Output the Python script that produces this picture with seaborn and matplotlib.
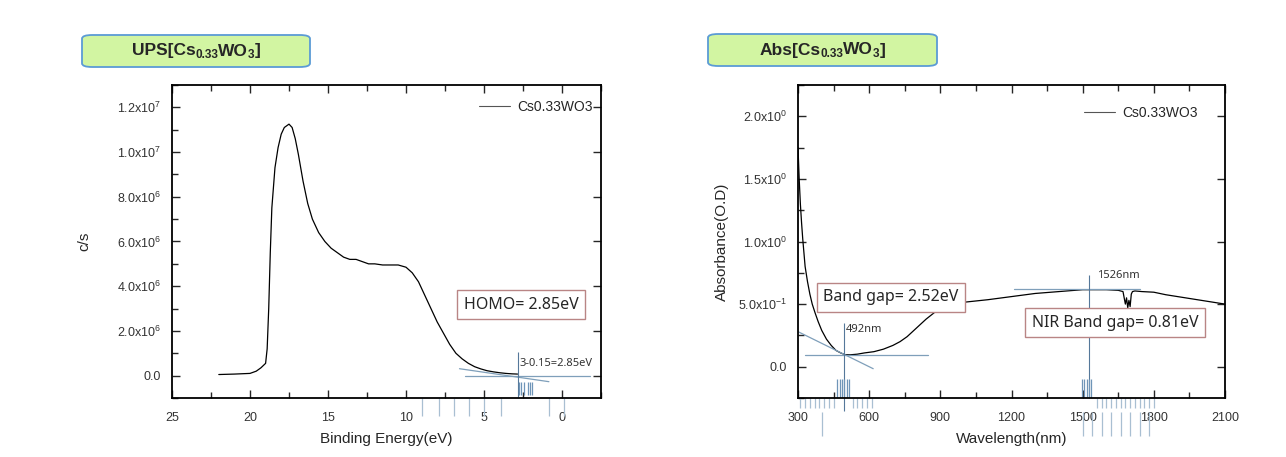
import numpy as np
import pandas as pd
import matplotlib
matplotlib.use("Agg")
import matplotlib.pyplot as plt
import seaborn as sns
from matplotlib.patches import FancyBboxPatch
from matplotlib.ticker import FixedLocator, MultipleLocator

# ---------------- data ----------------
ups_energy = [22.0, 21.0, 20.0, 19.6, 19.3, 19.0, 18.9, 18.8, 18.7, 18.6, 18.4, 18.2, 18.0,
              17.8, 17.5, 17.3, 17.1, 16.9, 16.6, 16.3, 16.0, 15.6, 15.2, 14.8, 14.4, 14.0,
              13.6, 13.2, 12.8, 12.4, 12.0, 11.5, 11.0, 10.5, 10.0, 9.6, 9.2, 8.8, 8.4, 8.0,
              7.6, 7.2, 6.8, 6.4, 6.0, 5.6, 5.2, 4.8, 4.4, 4.0, 3.6, 3.2, 2.85]
ups_counts = [0.05, 0.07, 0.10, 0.20, 0.35, 0.55, 1.2, 3.0, 5.5, 7.5, 9.3, 10.2, 10.8,
              11.1, 11.25, 11.1, 10.6, 9.9, 8.7, 7.7, 7.0, 6.4, 6.0, 5.7, 5.5, 5.3,
              5.2, 5.2, 5.1, 5.0, 5.0, 4.95, 4.95, 4.95, 4.85, 4.6, 4.2, 3.6, 3.0, 2.4,
              1.9, 1.4, 1.0, 0.75, 0.55, 0.4, 0.3, 0.22, 0.17, 0.13, 0.1, 0.08, 0.07]
ups_counts = [v * 1e6 for v in ups_counts]

abs_wavelength = [300, 305, 310, 315, 320, 330, 340, 350, 360, 372, 385, 400, 420, 440, 460,
                  480, 498, 520, 550, 580, 620, 660, 700, 730, 760, 800, 840, 880, 920, 960,
                  1000, 1050, 1100, 1200, 1300, 1400, 1500, 1550, 1600, 1650, 1670, 1680,
                  1685, 1690, 1695, 1700, 1705, 1710, 1720, 1750, 1800, 1850, 1900, 1950,
                  2000, 2050, 2100]
abs_od = [1.75, 1.5, 1.3, 1.15, 1.02, 0.8, 0.68, 0.58, 0.5, 0.43, 0.36, 0.29, 0.22, 0.17, 0.13,
          0.11, 0.096, 0.095, 0.10, 0.11, 0.12, 0.14, 0.17, 0.2, 0.24, 0.31, 0.38, 0.44, 0.48,
          0.505, 0.515, 0.525, 0.535, 0.56, 0.585, 0.60, 0.615, 0.615, 0.615, 0.61, 0.6, 0.5,
          0.55, 0.47, 0.53, 0.48, 0.58, 0.6, 0.605, 0.6, 0.595, 0.575, 0.56, 0.545, 0.53,
          0.515, 0.5]

series_name = "Cs0.33WO3"
# title pieces: (text, is_subscript)
ups_title = [("UPS[Cs", False), ("0.33", True), ("WO", False), ("3", True), ("]", False)]
abs_title = [("Abs[Cs", False), ("0.33", True), ("WO", False), ("3", True), ("]", False)]

ups_xticks = [25, 20, 15, 10, 5, 0]
ups_yticks = [0, 2e6, 4e6, 6e6, 8e6, 10e6, 12e6]
ups_ytick_labels = ["0.0", r"2.0x10$^{6}$", r"4.0x10$^{6}$", r"6.0x10$^{6}$",
                    r"8.0x10$^{6}$", r"1.0x10$^{7}$", r"1.2x10$^{7}$"]
abs_xticks = [300, 600, 900, 1200, 1500, 1800, 2100]
abs_yticks = [0.0, 0.5, 1.0, 1.5, 2.0]
abs_ytick_labels = ["0.0", r"5.0x10$^{-1}$", r"1.0x10$^{0}$", r"1.5x10$^{0}$", r"2.0x10$^{0}$"]

# annotation values
homo_label = "HOMO= 2.85eV"
homo_calc = "3-0.15=2.85eV"
homo_edge = 2.85
ups_tangent_E = [6.57, 0.84]
ups_tangent_v = [0.31e6, -0.27e6]
ups_base_E = [6.25, -1.8]
ups_drop_E = [8.96, 7.86, 6.9, 5.93, 4.97, 3.9, 0.84, -0.13]
ups_bar_E = [2.75, 2.6, 2.45, 2.2, 2.05, 1.95]

bg_label = "Band gap= 2.52eV"
nir_label = "NIR Band gap= 0.81eV"
edge1_nm, edge2_nm = 492, 1526
abs_tangent_x = [300, 617]
abs_tangent_y = [0.28, -0.016]
abs_base_x = [330, 848]
abs_base_y = 0.096
abs_top_x = [1210, 1740]
abs_top_y = 0.62
abs_drop_short = [310, 330, 350, 370, 390, 410, 430, 450, 530, 550, 570, 590, 610,
                  1560, 1580, 1600, 1620, 1640, 1660, 1680, 1700, 1720, 1740, 1760, 1780, 1800]
abs_drop_long = [400, 1500, 1540, 1580, 1620, 1660, 1700, 1740, 1780]
abs_bar_x = [466, 476, 486, 496, 506, 516, 1497, 1507, 1517, 1527, 1537]

# ---------------- style ----------------
sns.set_theme(style="ticks")
plt.rcParams["font.family"] = ["Liberation Sans", "DejaVu Sans"]
plt.rcParams["mathtext.default"] = "regular"
plt.rcParams["axes.linewidth"] = 1.3

W, H = 1286, 457
fig = plt.figure(figsize=(W / 100, H / 100), dpi=100)
fig.patch.set_facecolor("white")

def fx(px):
    return px / W

def fy(py):
    return 1 - py / H

ax1 = fig.add_axes([fx(172), fy(398), (601 - 172) / W, (398 - 85) / H])
ax2 = fig.add_axes([fx(798), fy(398), (1225 - 798) / W, (398 - 85) / H])

line_c = "black"
tan_c = "#7f9fba"
vert_c = "#55789a"
bar_c = "#6f95b8"
drop_c = "#a9bfd2"
box_edge = "#b98585"
tick_c = "#333333"
ann_font = ["Noto Sans", "DejaVu Sans"]
box_fs = 11.5

# ---- UPS ----
df1 = pd.DataFrame({"E": ups_energy, "cps": ups_counts, "s": series_name})
sns.lineplot(data=df1, x="E", y="cps", hue="s", palette=[line_c], lw=0.9, ax=ax1, sort=False)
ax1.set_xlim(25, -2.5)
ax1.set_ylim(-1.0e6, 1.3e7)
ax1.xaxis.set_major_locator(FixedLocator(ups_xticks))
ax1.xaxis.set_minor_locator(MultipleLocator(2.5))
ax1.set_xticklabels([str(t) for t in ups_xticks])
ax1.yaxis.set_major_locator(FixedLocator(ups_yticks))
ax1.yaxis.set_minor_locator(MultipleLocator(1e6))
ax1.set_yticklabels(ups_ytick_labels)
ax1.set_xlabel("Binding Energy(eV)", fontsize=11, labelpad=6)
ax1.set_ylabel("c/s", fontsize=11, labelpad=18)

ax1.plot(ups_tangent_E, ups_tangent_v, color=tan_c, lw=0.9)
ax1.plot(ups_base_E, [0, 0], color=tan_c, lw=0.9)
ax1.vlines([homo_edge], -0.95e6, 1.07e6, color=vert_c, lw=0.8, clip_on=False)
ax1.vlines(ups_bar_E, -0.85e6, -0.3e6, color=bar_c, lw=0.9)
ax1.vlines(ups_drop_E, -1.0e6, -1.8e6, color=drop_c, lw=0.9, clip_on=False)
ax1.text(2.75, 0.55e6, homo_calc, fontsize=8, color=tick_c, ha="left", va="center",
         family=ann_font)
ax1.text(2.62, 3.17e6, homo_label, fontsize=box_fs, ha="center", va="center", family=ann_font,
         bbox=dict(boxstyle="square,pad=0.4", fc="white", ec=box_edge, lw=1))

ax1.legend(loc="center right", bbox_to_anchor=(0.981, 0.930), frameon=False, fontsize=10,
           handlelength=2.2, handletextpad=0.55, borderpad=0, borderaxespad=0)
for l in ax1.get_legend().get_lines():
    l.set_linewidth(0.8)
    l.set_color("#555555")

# ---- Absorbance ----
df2 = pd.DataFrame({"wl": abs_wavelength, "od": abs_od, "s": series_name})
sns.lineplot(data=df2, x="wl", y="od", hue="s", palette=[line_c], lw=0.9, ax=ax2, sort=False)
ax2.set_xlim(300, 2100)
ax2.set_ylim(-0.25, 2.25)
ax2.xaxis.set_major_locator(FixedLocator(abs_xticks))
ax2.xaxis.set_minor_locator(MultipleLocator(150))
ax2.set_xticklabels([str(t) for t in abs_xticks])
ax2.yaxis.set_major_locator(FixedLocator(abs_yticks))
ax2.yaxis.set_minor_locator(MultipleLocator(0.25))
ax2.set_yticklabels(abs_ytick_labels)
ax2.set_xlabel("Wavelength(nm)", fontsize=11, labelpad=6)
ax2.set_ylabel("Absorbance(O.D)", fontsize=11, labelpad=6)

ax2.plot(abs_tangent_x, abs_tangent_y, color=tan_c, lw=0.9)
ax2.plot(abs_base_x, [abs_base_y, abs_base_y], color=tan_c, lw=0.9)
ax2.plot(abs_top_x, [abs_top_y, abs_top_y], color=tan_c, lw=0.9)
ax2.vlines([edge1_nm], -0.35, 0.35, color=vert_c, lw=0.8, clip_on=False)
ax2.vlines([edge2_nm], -0.25, 0.73, color=vert_c, lw=0.8, clip_on=False)
ax2.vlines(abs_bar_x, -0.25, -0.10, color=bar_c, lw=0.9)
ax2.vlines(abs_drop_short, -0.25, -0.33, color=drop_c, lw=0.9, clip_on=False)
ax2.vlines(abs_drop_long, -0.36, -0.55, color=drop_c, lw=0.9, clip_on=False)
ax2.text(502, 0.295, f"{edge1_nm}nm", fontsize=8, color=tick_c, ha="left", va="center",
         family=ann_font)
ax2.text(1560, 0.73, f"{edge2_nm}nm", fontsize=8, color=tick_c, ha="left", va="center",
         family=ann_font)
ax2.text(692, 0.554, bg_label, fontsize=box_fs, ha="center", va="center", family=ann_font,
         bbox=dict(boxstyle="square,pad=0.4", fc="white", ec=box_edge, lw=1))
ax2.text(1636, 0.351, nir_label, fontsize=box_fs, ha="center", va="center", family=ann_font,
         bbox=dict(boxstyle="square,pad=0.4", fc="white", ec=box_edge, lw=1))

ax2.legend(loc="center right", bbox_to_anchor=(0.937, 0.911), frameon=False, fontsize=10,
           handlelength=2.2, handletextpad=0.55, borderpad=0, borderaxespad=0)
for l in ax2.get_legend().get_lines():
    l.set_linewidth(0.8)
    l.set_color("#555555")

for ax in (ax1, ax2):
    for sp in ax.spines.values():
        sp.set_visible(True)
        sp.set_color("black")
    ax.tick_params(which="major", direction="in", length=6, width=1.0, top=True, right=True,
                   labelsize=9, labelcolor=tick_c)
    ax.tick_params(axis="x", which="major", pad=10)
    ax.tick_params(axis="y", which="major", pad=8)
    ax.tick_params(which="minor", direction="in", length=4, width=1.0, top=True, right=False,
                   left=True, bottom=True)
    ax.grid(False)

# ---- title boxes ----
renderer = fig.canvas.get_renderer()
title_font = "Liberation Sans"
main_fs, sub_fs = 12.5, 8.5

def draw_title(pieces, cx, cy):
    # measure widths first
    widths = []
    for txt, sub in pieces:
        t = fig.text(0, 0, txt, fontsize=sub_fs if sub else main_fs, fontweight="bold",
                     family=title_font)
        widths.append(t.get_window_extent(renderer).width)
        t.remove()
    x = cx - sum(widths) / 2
    for (txt, sub), w in zip(pieces, widths):
        fig.text(fx(x), fy(cy + (4 if sub else 0)), txt, fontsize=sub_fs if sub else main_fs,
                 fontweight="bold", family=title_font, ha="left", va="center")
        x += w

for (x0, y0, x1, y1, pieces) in [(82, 35, 310, 67, ups_title), (708, 34, 937, 66, abs_title)]:
    box = FancyBboxPatch((fx(x0), fy(y1)), fx(x1) - fx(x0), fy(y0) - fy(y1),
                         boxstyle="round,pad=0,rounding_size=0.008",
                         transform=fig.transFigure, fc="#d2f5a2", ec="#5b9bd5", lw=1.3)
    fig.patches.append(box)
    draw_title(pieces, (x0 + x1) / 2, (y0 + y1) / 2)

fig.savefig("out.png", dpi=100)
